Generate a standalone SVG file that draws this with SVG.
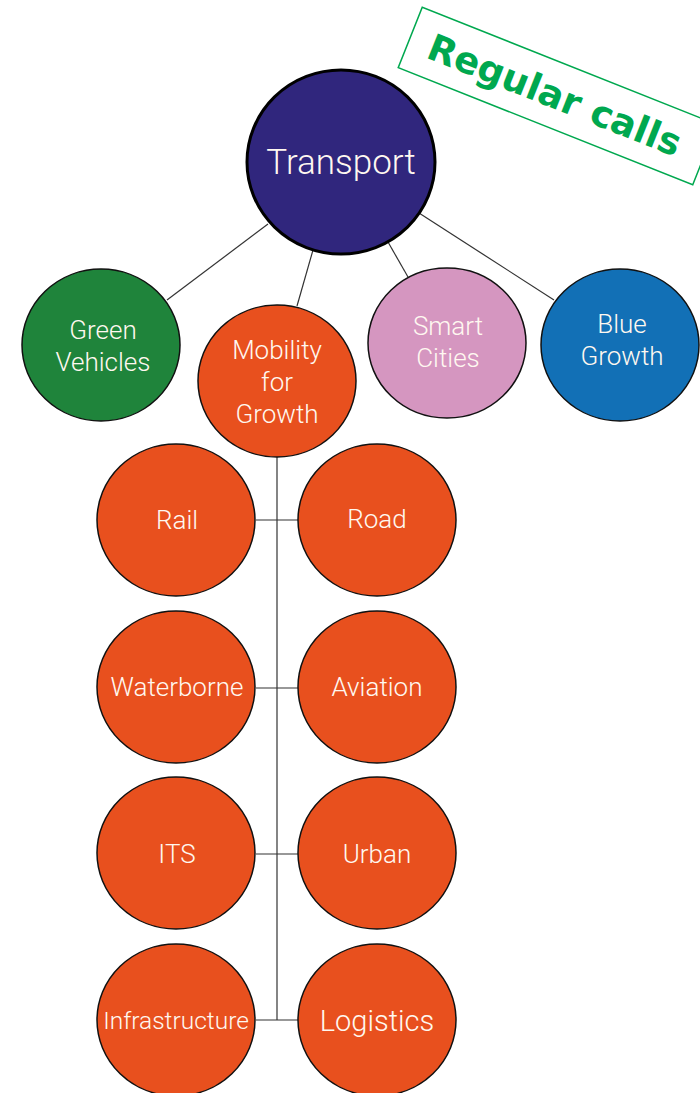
<svg xmlns="http://www.w3.org/2000/svg" width="700" height="1093" viewBox="0 0 700 1093">
  <style>
    .node { stroke: #111; stroke-width: 1.5; }
    .lbl { font-family: Roboto, "Open Sans", "Liberation Sans", sans-serif; font-weight: 300; fill: #fff8f0; text-anchor: middle; font-size: 26px; }
    .big { font-size: 35px; }
    .small { font-size: 24.5px; }
    .mid { font-size: 29px; }
    .link { stroke: #333; stroke-width: 1.2; fill: none; }
    .orange { fill: #e8501e; }
  </style>
  <rect width="700" height="1093" fill="#ffffff"/>

  <!-- connectors -->
  <g id="connectors" class="link">
    <line x1="268" y1="224" x2="167" y2="300"/>
    <line x1="313" y1="250" x2="297" y2="306"/>
    <line x1="388" y1="242" x2="408" y2="277"/>
    <line x1="419" y1="213" x2="554" y2="300"/>
    <line x1="277" y1="457" x2="277" y2="1020"/>
    <line x1="256" y1="520" x2="298" y2="520"/>
    <line x1="256" y1="688" x2="298" y2="688"/>
    <line x1="256" y1="854" x2="298" y2="854"/>
    <line x1="256" y1="1020" x2="298" y2="1020"/>
  </g>

  <!-- top level -->
  <g id="transport">
    <ellipse cx="341" cy="162" rx="94" ry="92" fill="#30267d" stroke="#000" stroke-width="3"/>
    <text class="lbl big" x="341" y="174">Transport</text>
  </g>

  <!-- second level -->
  <g id="green-vehicles">
    <ellipse class="node" cx="101" cy="345" rx="79" ry="76" fill="#1f843b"/>
    <text class="lbl" x="103" y="339">Green</text>
    <text class="lbl" x="103" y="371">Vehicles</text>
  </g>
  <g id="mobility-for-growth">
    <ellipse class="node orange" cx="277" cy="381" rx="79" ry="76"/>
    <text class="lbl" x="277" y="359">Mobility</text>
    <text class="lbl" x="277" y="391">for</text>
    <text class="lbl" x="277" y="423">Growth</text>
  </g>
  <g id="smart-cities">
    <ellipse class="node" cx="447" cy="343" rx="79" ry="75" fill="#d596c0"/>
    <text class="lbl" x="448" y="335">Smart</text>
    <text class="lbl" x="448" y="367">Cities</text>
  </g>
  <g id="blue-growth">
    <ellipse class="node" cx="620" cy="345" rx="79" ry="76" fill="#1270b6"/>
    <text class="lbl" x="622" y="333">Blue</text>
    <text class="lbl" x="622" y="365">Growth</text>
  </g>

  <!-- mobility themes -->
  <g id="rail">
    <ellipse class="node orange" cx="176" cy="520" rx="79" ry="76"/>
    <text class="lbl" x="177" y="529">Rail</text>
  </g>
  <g id="road">
    <ellipse class="node orange" cx="377" cy="520" rx="79" ry="76"/>
    <text class="lbl" x="377" y="528">Road</text>
  </g>
  <g id="waterborne">
    <ellipse class="node orange" cx="176" cy="687" rx="79" ry="76"/>
    <text class="lbl" x="177" y="696">Waterborne</text>
  </g>
  <g id="aviation">
    <ellipse class="node orange" cx="377" cy="687" rx="79" ry="76"/>
    <text class="lbl" x="377" y="696">Aviation</text>
  </g>
  <g id="its">
    <ellipse class="node orange" cx="176" cy="853" rx="79" ry="76"/>
    <text class="lbl" x="177" y="863">ITS</text>
  </g>
  <g id="urban">
    <ellipse class="node orange" cx="377" cy="853" rx="79" ry="76"/>
    <text class="lbl" x="377" y="863">Urban</text>
  </g>
  <g id="infrastructure">
    <ellipse class="node orange" cx="176" cy="1020" rx="79" ry="76"/>
    <text class="lbl small" x="176" y="1029">Infrastructure</text>
  </g>
  <g id="logistics">
    <ellipse class="node orange" cx="377" cy="1020" rx="79" ry="76"/>
    <text class="lbl mid" x="377" y="1031">Logistics</text>
  </g>

  <!-- tilted banner -->
  <g id="regular-calls" transform="translate(557.5,96) rotate(21.7)">
    <rect x="-158.5" y="-32.5" width="317" height="65" fill="#ffffff" stroke="#00a84f" stroke-width="1.5"/>
    <text x="-3" y="13" font-family="'DejaVu Sans', Verdana, sans-serif" font-weight="bold" font-size="37" fill="#00a84f" text-anchor="middle">Regular calls</text>
  </g>
</svg>
